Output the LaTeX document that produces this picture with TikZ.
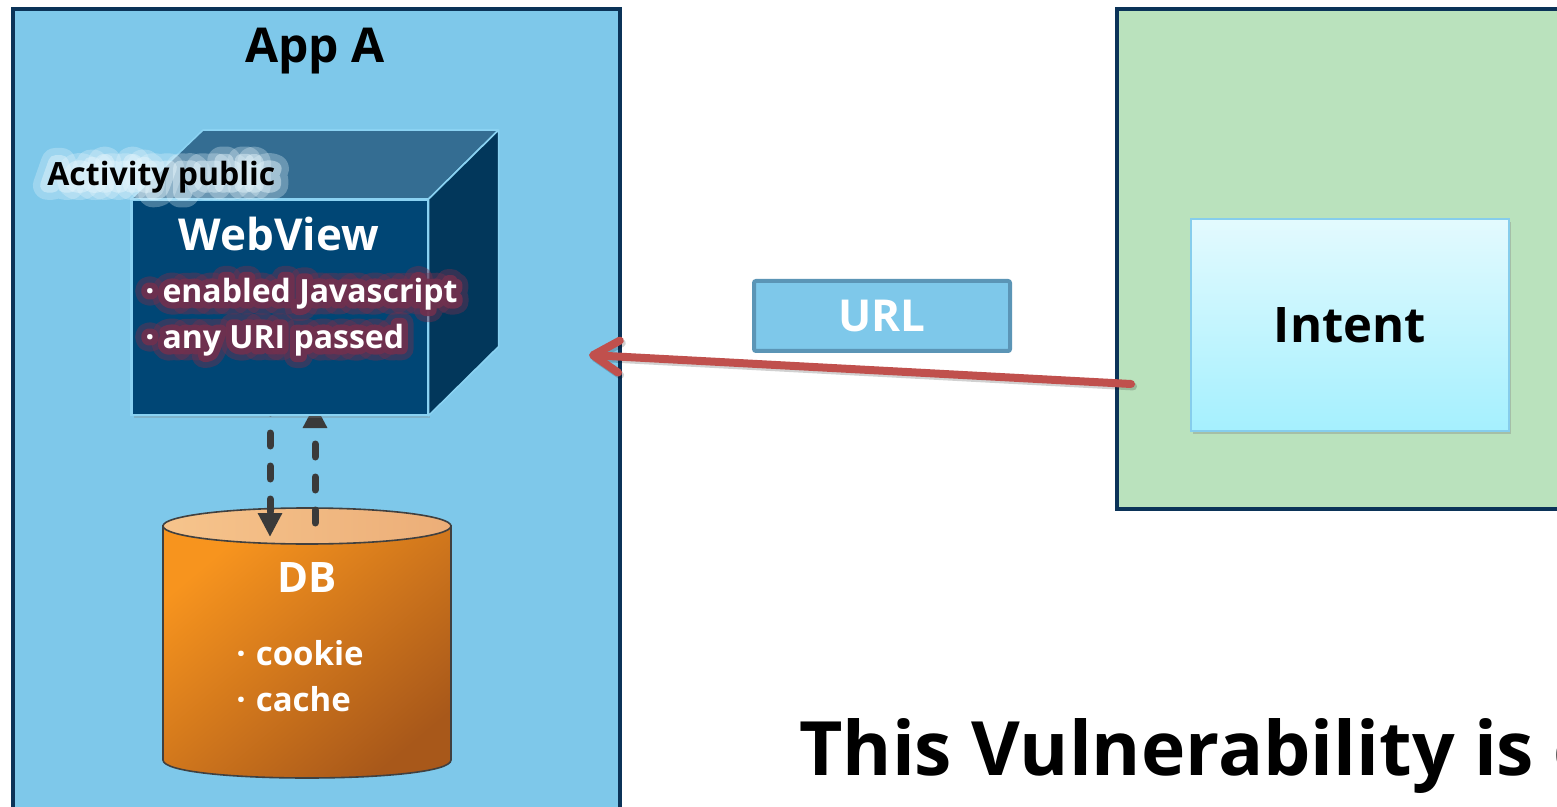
\documentclass[tikz,border=0pt]{standalone}
\usepackage{fontspec}
\setmainfont{Open Sans}
\usetikzlibrary{arrows.meta,shadows,calc}

\definecolor{appblue}{HTML}{7EC8EA}
\definecolor{framenavy}{HTML}{0B3358}
\definecolor{cubefront}{HTML}{004675}
\definecolor{cubetop}{HTML}{346D92}
\definecolor{cubeside}{HTML}{02375B}
\definecolor{cubeedge}{HTML}{8AD2F2}
\definecolor{mint}{HTML}{BAE2BD}
\definecolor{intenttop}{HTML}{E3FAFE}
\definecolor{intentbot}{HTML}{A5F0FE}
\definecolor{intentedge}{HTML}{86CDEC}
\definecolor{urledge}{HTML}{5B95B6}
\definecolor{flowred}{HTML}{C0504D}
\definecolor{dashgray}{HTML}{3A3A3A}
\definecolor{dblight}{HTML}{F7941E}
\definecolor{dbdark}{HTML}{A8581A}
\definecolor{dblidl}{HTML}{F6C48C}
\definecolor{dblidr}{HTML}{ECAE78}
\definecolor{dbedge}{HTML}{404040}
\definecolor{halored}{HTML}{70304E}
\definecolor{halolight}{HTML}{E6F6FC}

\tikzset{
  frame/.style={draw=framenavy, line width=2pt, inner sep=0pt, anchor=north west},
  facefill/.style={draw=cubeedge, line width=0.8pt, line join=round},
  lbl/.style={font=\bfseries, inner sep=0pt},
  bullet/.style={lbl, anchor=west, text=white, font=\bfseries\fontsize{16}{19}\selectfont},
  % stroked underlays (round joins) that give a text its soft halo
  halolayer/.style 2 args={lbl, anchor=west, text=#1, text opacity=#2},
  halofont/.style={font=\bfseries\fontsize{16}{19}\selectfont\addfontfeature{FakeBold=#1}\pgfsetroundjoin},
  dasharrow/.style={draw=dashgray, line width=3.5pt, line cap=round,
    dash pattern=on 6.5pt off 10pt,
    -{Triangle[length=12pt,width=11.5pt,fill=dashgray]}},
  redarrow/.style={draw=flowred, line width=4pt, line cap=round,
    -{Straight Barb[length=13pt,width=16pt,round]}},
}

\begin{document}
\begin{tikzpicture}[x=0.5pt,y=-0.5pt]
\useasboundingbox (0,0) rectangle (1557,807);
\fill[white] (0,0) rectangle (1557,807);
\begin{scope}
\clip (0,0) rectangle (1557,807);

% ---- containers
\node[frame, fill=appblue, minimum width=303.5pt, minimum height=412pt] (appA) at (11,7) {};
\node[frame, fill=mint, minimum width=260pt, minimum height=250pt] (other) at (1115,7) {};
\node[lbl, anchor=base, font=\bfseries\fontsize{24}{29}\selectfont] (apptitle) at (315,63) {App A};

% ---- DB cylinder
\coordinate (dbtop) at (307,526);
\shade[top color=dblight, bottom color=dbdark, shading angle=40, draw=dbedge, line width=0.8pt]
  (163,526) -- (163,760) .. controls (163,784) and (451,784) .. (451,760) -- (451,526) -- cycle;
\shade[left color=dblidl, right color=dblidr, draw=dbedge, line width=0.8pt]
  (dbtop) ellipse [x radius=144, y radius=18];
\node[lbl, text=white, font=\bfseries\fontsize{21}{25}\selectfont] (dbtitle) at (307,578) {DB};
\node[lbl, anchor=west, text=white, font=\bfseries\fontsize{16.5}{20}\selectfont] (c1) at (236,653) {·\hspace{5pt}cookie};
\node[lbl, anchor=west, text=white, font=\bfseries\fontsize{16.5}{20}\selectfont] (c2) at (236,699) {·\hspace{5pt}cache};

% ---- connectors between WebView and DB (the cube hides their upper ends)
\coordinate (dnstart) at (270,400);
\coordinate (dnend) at (270,537);
\coordinate (upstart) at (315,523);
\coordinate (upend) at (315,404);
\draw[dasharrow] (dnstart) -- (dnend);
\draw[dasharrow] (upstart) -- (upend);

% ---- WebView cube
\node[draw=cubeedge, line width=0.8pt, fill=cubefront, minimum width=148pt, minimum height=107.5pt,
      anchor=north west, inner sep=0pt,
      drop shadow={shadow xshift=1pt, shadow yshift=-1.5pt, opacity=0.3}] (web) at (131,199) {};
\fill[cubetop, facefill] (web.north west) -- ++(72,-69) -- ($(web.north east)+(70,-69)$) -- (web.north east) -- cycle;
\fill[cubeside, facefill] (web.north east) -- ++(70,-69) -- ($(web.south east)+(70,-69)$) -- (web.south east) -- cycle;
\draw[cubeedge, line width=0.8pt] (web.north west) rectangle (web.south east);

\node[lbl, text=white, font=\bfseries\fontsize{22}{26}\selectfont] (webtitle) at (279,234) {WebView};

\node[halolayer={halored}{0.45}, halofont=75] (b1o) at (145,294) {·\hspace{4pt}enabled Javascript};
\node[halolayer={halored}{0.9}, halofont=38] (b1i) at (145,294) {·\hspace{4pt}enabled Javascript};
\node[bullet] (b1) at (145,294) {·\hspace{4pt}enabled Javascript};
\node[halolayer={halored}{0.45}, halofont=75] (b2o) at (145,340) {·\hspace{4pt}any URI passed};
\node[halolayer={halored}{0.9}, halofont=38] (b2i) at (145,340) {·\hspace{4pt}any URI passed};
\node[bullet] (b2) at (145,340) {·\hspace{4pt}any URI passed};

\node[halolayer={halolight}{0.3}, halofont=90] (acto) at (47,177) {Activity public};
\node[halolayer={halolight}{0.45}, halofont=45] (acti) at (47,177) {Activity public};
\node[bullet, text=black] (act) at (47,177) {Activity public};

% ---- URL label
\node[draw=urledge, fill=appblue, line width=2pt, rounded corners=1pt, minimum width=128pt,
      minimum height=35pt, text=white, lbl, font=\bfseries\fontsize{22}{26}\selectfont] (url) at (882,316) {URL};

% ---- Intent
\node[draw=intentedge, line width=0.6pt, top color=intenttop, bottom color=intentbot,
      minimum width=159pt, minimum height=106pt, inner sep=0pt,
      drop shadow={shadow xshift=1pt, shadow yshift=-1.5pt, opacity=0.35},
      font=\bfseries\fontsize{24.5}{29}\selectfont] (intent) at (1350,325) {Intent};

% ---- request arrow
\coordinate (src) at (1131,384);
\coordinate (dst) at (589,355);
\draw[redarrow, draw=black, opacity=0.18, transform canvas={xshift=1pt,yshift=-1.2pt}] (src) -- (dst);
\draw[redarrow] (src) -- (dst);

% ---- caption
\node[lbl, anchor=base west, font=\bfseries\fontsize{37.5}{44}\selectfont] (caption) at (799,775)
  {This Vulnerability is c};
\end{scope}
\end{tikzpicture}
\end{document}
